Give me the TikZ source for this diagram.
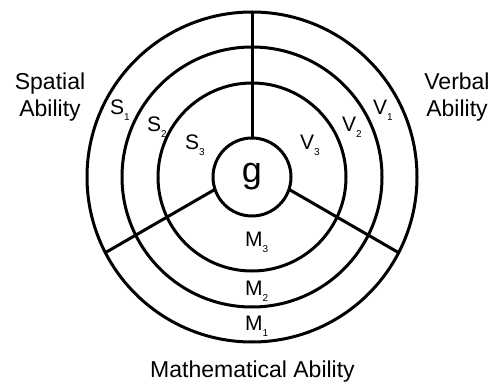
\documentclass[tikz,border=0pt]{standalone}
\usepackage{fontspec}
\setmainfont{Liberation Sans}
\usetikzlibrary{calc}
\newcommand{\lab}[2]{#1\raisebox{-6pt}{\fontsize{10}{10}\selectfont #2}}
\begin{document}
\begin{tikzpicture}[x=1pt,y=1pt,
  ring/.style={circle,draw,line width=3pt,inner sep=0pt,outer sep=0pt},
  sep/.style={line width=3pt},
  big/.style={font=\fontsize{23}{27}\selectfont,align=center,inner sep=0pt},
  sub/.style={font=\fontsize{21}{21}\selectfont,anchor=base west,inner sep=0pt}]
\useasboundingbox (0,0) rectangle (495,383);
\coordinate (c) at (252,206);
\coordinate (p) at (252,215);
\node[ring,minimum size=330pt] (r1) at (c) {};
\node[ring,minimum size=260pt] (r2) at (c) {};
\node[ring,minimum size=188pt] (r3) at (c) {};
\node[ring,minimum size=78pt,font=\fontsize{36}{36}\selectfont] (g) at (c) {\raisebox{-3pt}{g}};
\draw[sep] (g.90) -- (r1.90);
\draw[sep] ($(p)+(210:42.7)$) -- ($(p)+(210:169.3)$);
\draw[sep] ($(p)+(330:42.7)$) -- ($(p)+(330:169.3)$);
\node[big] (sp) at (50,286) {Spatial\\Ability};
\node[big] (vb) at (457,286) {Verbal\\Ability};
\node[big,anchor=base] (ma) at (252.5,6) {Mathematical Ability};
\node[sub] (s1) at (110,268) {\lab{S}{1}};
\node[sub] (s2) at (147,251) {\lab{S}{2}};
\node[sub] (s3) at (185,233) {\lab{S}{3}};
\node[sub] (v1) at (373,268) {\lab{V}{1}};
\node[sub] (v2) at (342,251) {\lab{V}{2}};
\node[sub] (v3) at (300,233) {\lab{V}{3}};
\node[sub] (m3) at (245,136) {\lab{M}{3}};
\node[sub] (m2) at (245,88) {\lab{M}{2}};
\node[sub] (m1) at (245,53) {\lab{M}{1}};
\end{tikzpicture}
\end{document}
